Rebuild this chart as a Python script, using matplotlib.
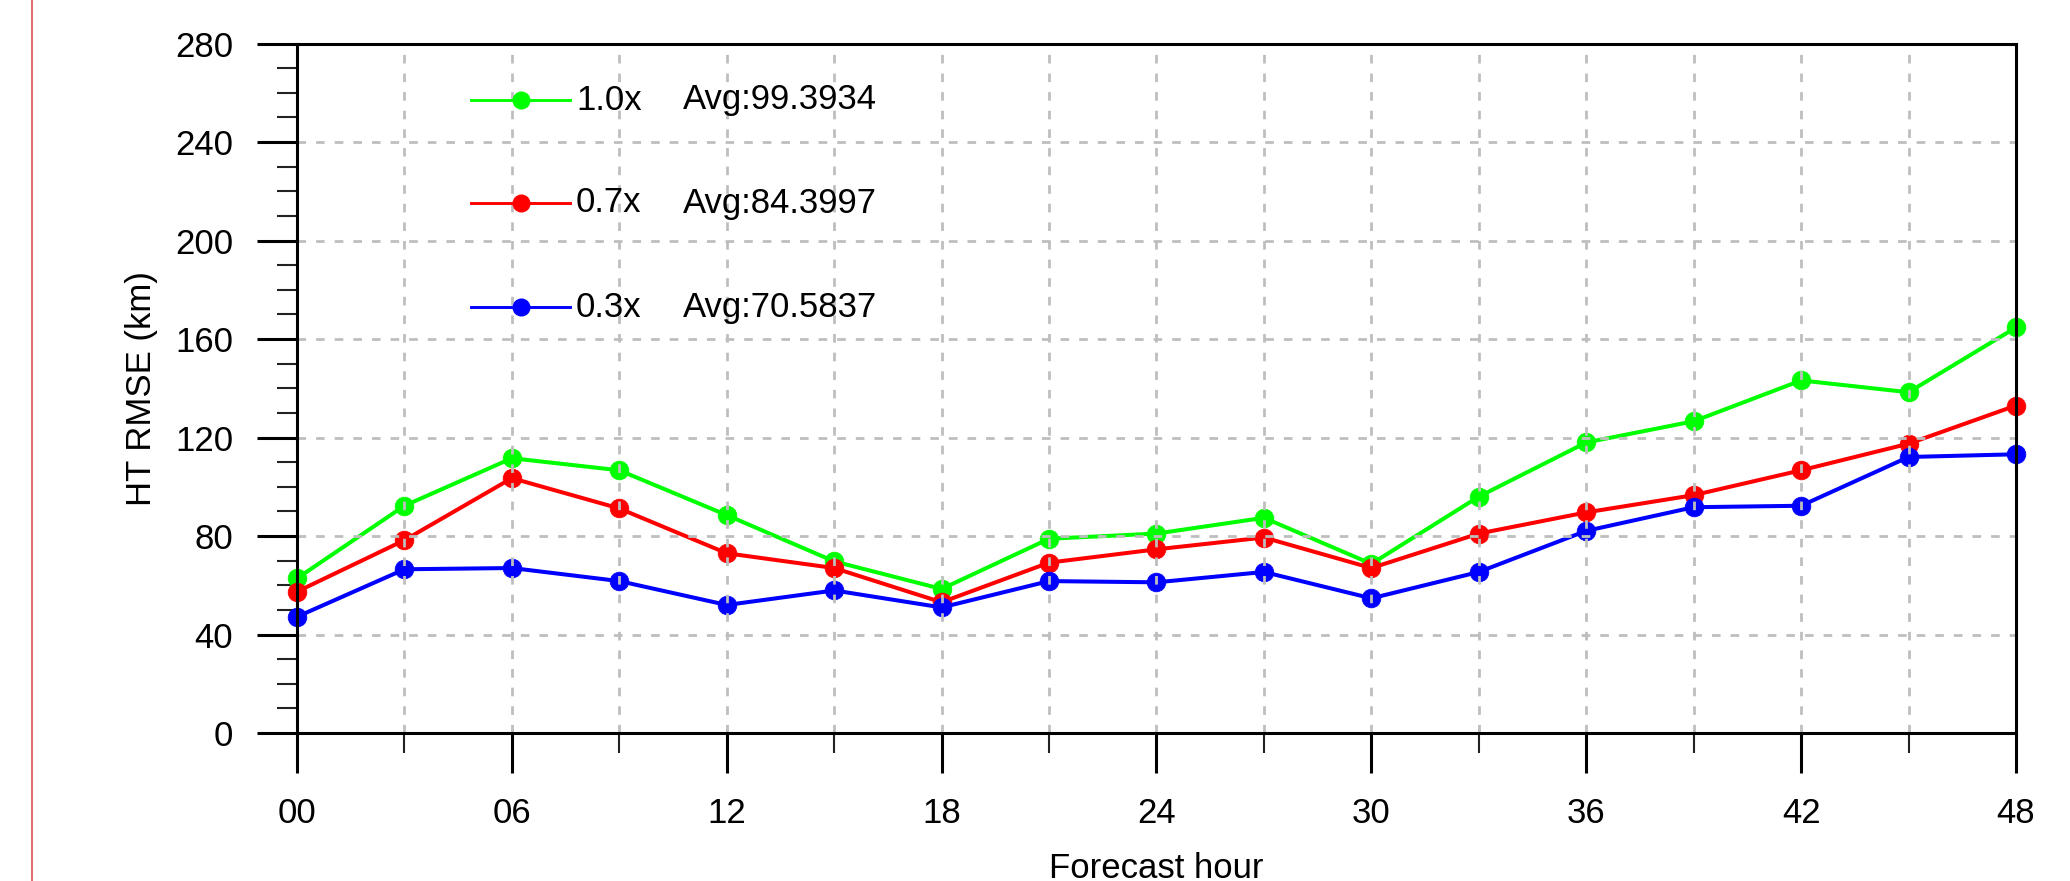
import numpy as np
import matplotlib
matplotlib.use("Agg")
import matplotlib.pyplot as plt
from matplotlib.lines import Line2D
from matplotlib.ticker import MultipleLocator

plt.rcParams['font.family'] = ['Liberation Sans', 'DejaVu Sans']

# --- data ---
hours = [0, 3, 6, 9, 12, 15, 18, 21, 24, 27, 30, 33, 36, 39, 42, 45, 48]
xtick_hours = [0, 6, 12, 18, 24, 30, 36, 42, 48]
xtick_labels = ["00", "06", "12", "18", "24", "30", "36", "42", "48"]

rmse_10x = [62.8, 92.3, 111.6, 106.7, 88.5, 69.7, 58.5, 78.9, 81.0, 87.4,
            68.7, 96.0, 118.0, 126.6, 143.2, 138.4, 164.7]
rmse_07x = [57.4, 78.3, 103.5, 91.2, 73.0, 67.0, 53.1, 69.2, 74.6, 79.4,
            67.0, 81.0, 89.6, 96.6, 106.7, 117.5, 133.0]
rmse_03x = [47.2, 66.5, 67.0, 61.7, 52.0, 57.9, 51.0, 61.7, 61.2, 65.4,
            54.7, 65.4, 82.1, 91.7, 92.3, 112.1, 113.2]

series_names = ["1.0x", "0.7x", "0.3x"]
series_avg = ["Avg:99.3934", "Avg:84.3997", "Avg:70.5837"]
series_colors = ["#00ff00", "#ff0000", "#0000ff"]

DPI = 100
fig = plt.figure(figsize=(20.7, 8.81), dpi=DPI)
ax = fig.add_axes([297 / 2070, 1 - 733 / 881, (2016 - 297) / 2070, (733 - 43.6) / 881])

for vals, col in zip([rmse_10x, rmse_07x, rmse_03x], series_colors):
    ax.plot(hours, vals, color=col, lw=2.9, marker='o', ms=13.5, mew=0.5,
            mec=col, mfc=col, zorder=2, clip_on=False)

ax.set_xlim(0, 48)
ax.set_ylim(0, 280)

# grid drawn on top of the lines, like the original
grid_kw = dict(color='#bebebe', lw=2.0, ls=(0, (3.1, 3.6)), zorder=3)
for h in hours[1:-1]:
    ax.axvline(h, **grid_kw)
for v in [40, 80, 120, 160, 200, 240]:
    ax.axhline(v, **grid_kw)

ax.set_xticks(xtick_hours)
ax.set_xticklabels(xtick_labels)
ax.xaxis.set_minor_locator(MultipleLocator(3))
ax.set_yticks([0, 40, 80, 120, 160, 200, 240, 280])
ax.yaxis.set_minor_locator(MultipleLocator(10))

ax.tick_params(axis='both', which='major', direction='out', length=29,
               width=2.2, labelsize=25, color='black')
ax.tick_params(axis='both', which='minor', direction='out', length=14.5,
               width=1.5, color='#222222')
ax.tick_params(axis='x', which='major', pad=17)
ax.tick_params(axis='y', which='major', pad=17)

for sp in ax.spines.values():
    sp.set_linewidth(2.2)
    sp.set_zorder(5)

ax.set_xlabel("Forecast hour", fontsize=25, labelpad=16)
ax.set_ylabel("HT RMSE (km)", fontsize=25, labelpad=12)

# in-plot legend (positions in pixel space of the figure)
leg_y = [100, 203, 307]
for y, name, avg, col in zip(leg_y, series_names, series_avg, series_colors):
    fy = 1 - y / 881
    fig.add_artist(Line2D([471 / 2070, 570 / 2070], [fy, fy], color=col, lw=2.1,
                          transform=fig.transFigure, zorder=2))
    fig.add_artist(Line2D([521 / 2070], [fy], color=col, marker='o', ms=13, mew=0,
                          transform=fig.transFigure, zorder=2))
    fig.text(576 / 2070, fy, name, fontsize=25, va='center', ha='left')
    fig.text(683 / 2070, fy, avg, fontsize=25, va='center', ha='left')

# thin red margin line at the far left
fig.add_artist(Line2D([32 / 2070, 32 / 2070], [0, 1], color='#d9534f', lw=1.2,
                      transform=fig.transFigure))

fig.savefig("out.png", dpi=DPI)
